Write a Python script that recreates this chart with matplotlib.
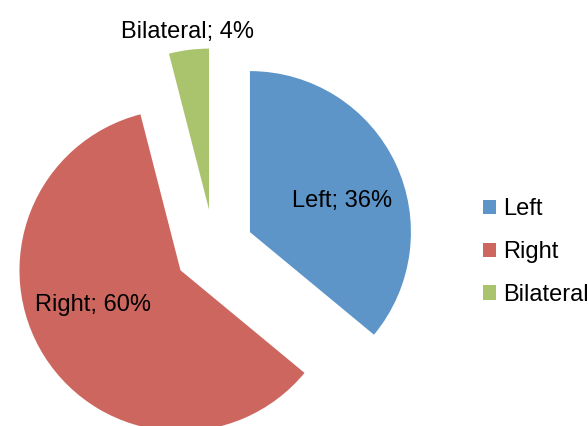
import matplotlib.pyplot as plt
from matplotlib.patches import Patch

plt.rcParams['font.family'] = ['Liberation Sans', 'DejaVu Sans']

labels = ['Left', 'Right', 'Bilateral']
values = [36, 60, 4]
colors = ['#5E95C9', '#CD665F', '#A9C46C']

# label text positions (pixel space, origin top-left), baseline anchored
label_pos = [(342.5, 207), (93, 311), (187.5, 38)]

W, H = 588, 426
fig = plt.figure(figsize=(W / 100, H / 100), dpi=100)
ax = fig.add_axes([0, 0, 1, 1])

# axes in pixel units, so explode is given in pixels too
wedges, _ = ax.pie(values, colors=colors, startangle=90, counterclock=False,
                   radius=161, center=(214, H - 249), explode=[39.7] * 3,
                   wedgeprops=dict(linewidth=0), frame=True)
ax.set_xlim(0, W)
ax.set_ylim(0, H)
ax.set_aspect('equal')
ax.axis('off')

for lab, v, (x, y) in zip(labels, values, label_pos):
    ax.text(x, H - y, f'{lab}; {v}%', ha='center', va='baseline', fontsize=17, color='black')

handles = [Patch(facecolor=c, edgecolor='none') for c in colors]
fig.legend(handles, labels, loc='center left', bbox_to_anchor=(483 / W, 1 - 252 / H),
           frameon=False, fontsize=17, handlelength=0.55, handleheight=0.55,
           handletextpad=0.3, labelspacing=0.88, borderpad=0, borderaxespad=0)

fig.savefig('out.png', dpi=100)
